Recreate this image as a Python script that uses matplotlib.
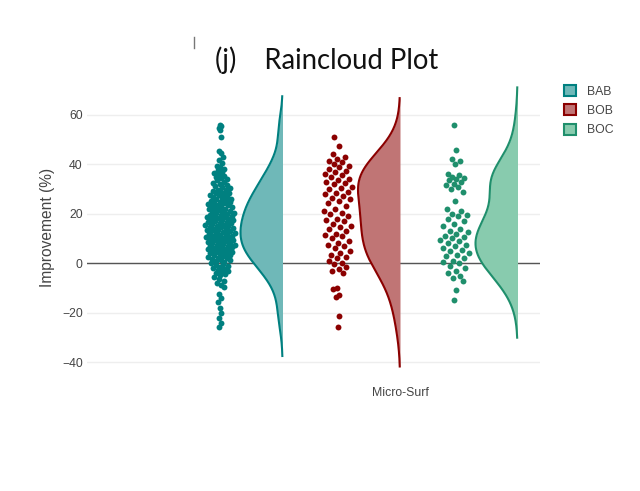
import numpy as np
import matplotlib
matplotlib.use("Agg")
import matplotlib.pyplot as plt
from matplotlib.patches import Patch

# ---------------- data ----------------
category = "Micro-Surf"
series_names = ["BAB", "BOB", "BOC"]

bab = [-26, -24, -22, -20, -18, -15.5, -14, -12.5,
       -9.5, -9, -8, -7, -6.5, -5.5,
       -0.3, -0.8, -1.2, -1.7, -2, -2.4, -2.9, -3.3, -3.6, -4, -4.4, -4.8,
       0.2, 0.5, 0.8, 1.1, 1.4, 1.7, 2, 2.3, 2.6, 2.9, 3.2, 3.5, 3.8, 4.1, 4.3, 4.5, 4.7, 4.9,
       5.1, 5.3, 5.5, 5.7, 5.9, 6.1, 6.4, 6.6, 6.8, 7, 7.3, 7.5, 7.7, 8, 8.2, 8.5, 8.7, 9,
       9.2, 9.5, 9.7, 9.9,
       10.1, 10.3, 10.6, 10.8, 11, 11.2, 11.5, 11.7, 11.9, 12.2, 12.4, 12.6, 12.9, 13.1,
       13.3, 13.6, 13.8, 14, 14.2, 14.5, 14.7, 14.9,
       15.1, 15.4, 15.6, 15.8, 16.1, 16.3, 16.6, 16.8, 17, 17.3, 17.5, 17.8, 18, 18.2,
       18.5, 18.7, 19, 19.2, 19.5, 19.7, 19.9,
       20.2, 20.5, 20.7, 21, 21.3, 21.5, 21.8, 22.1, 22.4, 22.6, 22.9, 23.2, 23.5, 23.7,
       24, 24.3, 24.5, 24.7, 24.9,
       25.2, 25.5, 25.8, 26.1, 26.4, 26.8, 27.1, 27.4, 27.7, 28, 28.3, 28.6, 28.9, 29.2,
       29.5, 29.8,
       30.3, 30.8, 31.2, 31.7, 32.1, 32.6, 33, 33.5, 33.9, 34.4, 34.8,
       35.3, 35.9, 36.5, 37.1, 37.7, 38.3, 38.9, 39.5,
       40.5, 41.8, 43, 44.5, 45.5, 51, 54, 54.8, 55.5, 56]
bob = [51, 47.5, 44, 43, 42, 41.5, 41, 40, 39.5, 39, 38, 37.5, 37, 36, 35.5, 35, 34,
       33.5, 33, 32.5, 32, 31, 30.5, 30, 29, 28.5, 28, 27, 26.5, 26, 25, 24.5, 23, 22, 21,
       20.5, 20, 19, 18, 17.5, 17, 16, 15, 14.5, 14, 13, 12, 11.5, 11, 10, 9, 8, 7.5, 7,
       6, 5, 4, 3.5, 2.5, 2, 1, 0, -0.5, -1.5, -2.5, -3, -4, -10, -10.5, -13, -13.5,
       -21.5, -26]
boc = [56, 46, 42, 41.5, 40, 36, 35.5, 35, 34.5, 34, 33.5, 33, 32, 31.5, 31, 30, 29, 25,
       22, 21, 20, 19.5, 19, 18, 17, 16, 15, 14, 13, 12.5, 12, 11, 10.5, 10, 9.5, 9, 8,
       7.5, 7, 6, 5.5, 5, 4, 3.5, 3, 2, 1, 0.5, 0, -1, -2, -3, -4, -5, -6, -7, -11, -15]
series_values = [bab, bob, boc]

y_ticks = [-40, -20, 0, 20, 40, 60]

# ---------------- style ----------------
line_colors = ["#008080", "#8B0000", "#1f8f6c"]
fill_colors = ["#6fb8b8", "#c07575", "#88cbae"]

W, H = 640, 491
fig = plt.figure(figsize=(W / 100, H / 100), dpi=100)
L, R, T, B = 87, 540, 85, 369
ax = fig.add_axes([L / W, 1 - B / H, (R - L) / W, (B - T) / H])

group_spacing = 117.5
ax.set_xlim((L - 400) / group_spacing, (R - 400) / group_spacing)
ax.set_ylim(-42.8, 72.1)

for s in ax.spines.values():
    s.set_visible(False)
ax.set_yticks(y_ticks)
ax.set_yticklabels([("\u2212%d" % -v) if v < 0 else str(v) for v in y_ticks],
                   fontsize=8.8, color="#444444", family="Liberation Sans")
ax.tick_params(axis="y", length=0, pad=3)
ax.set_xticks([0])
ax.set_xticklabels([category], fontsize=8.8, color="#444444", family="Liberation Sans")
ax.tick_params(axis="x", length=0, pad=13)
ax.grid(axis="y", color="#eeeeee", linewidth=1)
ax.set_axisbelow(True)
ax.axhline(0, color="#555555", linewidth=1.0, zorder=1)
ax.set_ylabel("Improvement (%)", fontsize=11.2, color="#444444",
              family="Liberation Sans", labelpad=5)

max_w = 42 / group_spacing
point_off = -0.53
jit = 0.13


def kde(data, grid, bw):
    d = np.asarray(data)[:, None]
    return np.exp(-0.5 * ((grid[None, :] - d) / bw) ** 2).sum(axis=0) / (len(data) * bw * np.sqrt(2 * np.pi))


for i, (name, vals) in enumerate(zip(series_names, series_values)):
    vals = np.asarray(vals, dtype=float)
    base = i - 1
    n = len(vals)
    q75, q25 = np.percentile(vals, [75, 25])
    bw = 1.059 * min(vals.std(ddof=1), (q75 - q25) / 1.349) * n ** (-0.2)
    grid = np.linspace(vals.min() - 2 * bw, vals.max() + 2 * bw, 300)
    dens = kde(vals, grid, bw)
    dmax = dens.max()
    xs = base - max_w * dens / dmax
    ax.fill_betweenx(grid, xs, base, color=fill_colors[i], linewidth=0, zorder=2)
    ax.plot(xs, grid, color=line_colors[i], linewidth=1.5, zorder=3)
    # jittered points (jitter scaled by local density)
    dp = kde(vals, vals, bw) / dmax
    u = (np.arange(n) * 0.6180339887) % 1.0 - 0.5
    px = base + point_off + 2 * u * jit * dp
    ax.scatter(px, vals, s=18, color=line_colors[i], linewidths=0, zorder=4)

handles = [Patch(facecolor=fill_colors[i], edgecolor=line_colors[i], linewidth=1.5,
                 label=series_names[i]) for i in range(3)]
leg = fig.legend(handles=handles, loc="upper left", bbox_to_anchor=(553 / W, 1 - 74 / H),
                 frameon=False, prop={"family": "Liberation Sans", "size": 8.8},
                 handlelength=1.0, handleheight=1.0, handletextpad=0.9, labelspacing=0.55)
for t in leg.get_texts():
    t.set_color("#444444")

fig.text(327 / W, 1 - 60 / H, "(j)    Raincloud Plot", ha="center", va="center",
         fontsize=19.8, family="Lato", color="#111111")
fig.add_artist(plt.Line2D([194 / W, 194 / W], [1 - 37 / H, 1 - 48 / H],
                          color="#777777", linewidth=1))

fig.savefig("out.png", dpi=100, facecolor="white")
